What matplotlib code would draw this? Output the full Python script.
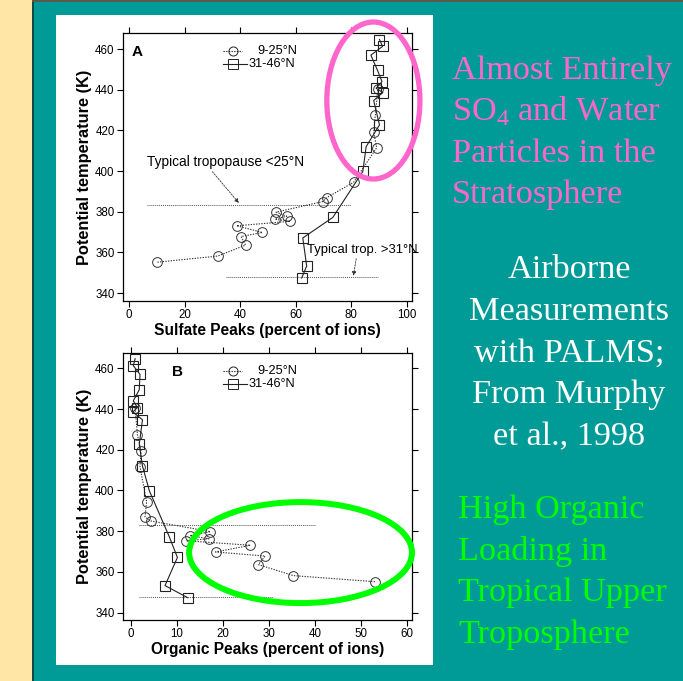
import matplotlib

matplotlib.use("Agg")
import matplotlib.pyplot as plt
from matplotlib.patches import Ellipse, Rectangle

plt.rcParams["font.family"] = ["Liberation Sans", "DejaVu Sans"]
plt.rcParams["mathtext.fontset"] = "custom"
plt.rcParams["mathtext.rm"] = "Liberation Serif"

# 9-25 N (circles) potential temperature levels and peaks
trop_theta = [355.2, 358.2, 363.6, 367.8, 369.8, 373.1, 375.3, 376.3, 377.8, 379.8,
              385.0, 387.0, 394.5, 411.5, 419.2, 427.4, 440.5]
trop_sulfate = [10.2, 31.9, 41.9, 40.3, 48.0, 38.7, 58.0, 52.5, 56.7, 52.9,
                69.7, 71.2, 80.8, 89.1, 88.0, 88.6, 89.5]
trop_organic = [53.1, 35.3, 27.7, 29.2, 18.4, 26.0, 12.0, 17.0, 12.8, 17.3,
                4.35, 3.05, 3.4, 1.96, 2.2, 1.4, 0.9]

# 31-46 N (squares)
mid_theta = [347.4, 353.3, 367.1, 377.2, 399.8, 412.0, 422.7, 434.7, 438.6, 440.7,
             444.0, 449.5, 457.0, 461.3, 464.7]
mid_sulfate = [62.1, 63.9, 62.5, 73.3, 84.1, 85.3, 90.1, 88.0, 91.3, 88.9,
               91.0, 89.4, 87.0, 91.2, 90.1]
mid_organic = [12.3, 7.4, 10.1, 8.35, 4.0, 2.5, 1.8, 2.5, 0.4, 1.4,
               0.5, 1.8, 1.96, 0.5, 0.9]

tropopause_theta = [383.2, 347.8]

pink_lines = ["Almost Entirely", "SO$_\\mathrm{4}$ and Water", "Particles in the", "Stratosphere"]
white_lines = ["Airborne", "Measurements", "with PALMS;", "From Murphy", "et al., 1998"]
green_lines = ["High Organic", "Loading in", "Tropical Upper", "Troposphere"]

W, H = 683, 681
fig = plt.figure(figsize=(W / 100, H / 100), dpi=100)
fig.patch.set_facecolor("#009B96")


def fx(px):
    return px / W


def fy(py):
    return 1 - py / H


def box(x0, y0, x1, y1, color):
    fig.add_artist(Rectangle((fx(x0), fy(y1)), fx(x1 - x0), (y1 - y0) / H,
                             transform=fig.transFigure, facecolor=color,
                             edgecolor="none", zorder=0))


box(0, 0, 32, H, "#FFE6A6")
box(32, 0, 34, H, "#0E4C48")
box(32, 0, W, 2, "#5A5A48")
box(56, 15, 433, 665, "white")


def panel(rect, xlim, ylim, xticks, xlabel, letter, letter_x):
    ax = fig.add_axes(rect)
    ax.set_facecolor("white")
    ax.set_xlim(*xlim)
    ax.set_ylim(*ylim)
    ax.set_xticks(xticks)
    ax.set_yticks(range(340, 461, 20))
    ax.tick_params(direction="out", length=4, width=0.8, labelsize=8.3,
                   top=True, right=True, pad=2)
    for s in ax.spines.values():
        s.set_linewidth(0.9)
    ax.set_ylabel("Potential temperature (K)", fontsize=11.8, fontweight="bold", labelpad=2)
    ax.set_xlabel(xlabel, fontsize=11.2, fontweight="bold", labelpad=1)
    ax.text(letter_x, 0.93, letter, transform=ax.transAxes, fontsize=11,
            fontweight="bold", va="center")
    return ax


def draw_series(ax, x_trop, x_mid, line_ext):
    ax.plot(x_trop, trop_theta, ls=(0, (1.2, 1.2)), lw=0.8, color="#333333",
            marker="o", ms=7, mfc="none", mec="#333333", mew=0.7, zorder=3)
    ax.plot(x_mid, mid_theta, ls="-", lw=0.8, color="#222222",
            marker="s", ms=7.5, mfc="none", mec="#222222", mew=0.8, zorder=3)
    for th, (a, b) in zip(tropopause_theta, line_ext):
        ax.plot([a, b], [th, th], ls=(0, (1, 1)), lw=0.7, color="#555555", zorder=2)
    # legend drawn by hand to mimic the original figure
    for i, (lab, mk, ls) in enumerate([("9-25°N", "o", (0, (1.2, 1.2))),
                                        ("31-46°N", "s", "-")]):
        yy = 0.932 - i * 0.047
        x0 = 0.346
        x1 = 0.412 if i == 0 else 0.43
        ax.plot([x0, x1], [yy, yy], transform=ax.transAxes, ls=ls, lw=0.8,
                color="#222222", clip_on=False)
        ax.plot([0.379], [yy], transform=ax.transAxes, marker=mk, ms=6.5,
                mfc="none", mec="#222222", mew=0.7)
        ax.text(0.464 if i == 0 else 0.434, yy, lab, transform=ax.transAxes,
                fontsize=9.2, va="center")


# Panel A: sulfate
axA = panel([fx(123), fy(301), fx(412 - 123), (301 - 33) / H], (-2.2, 101.8),
            (336.1, 467.9), range(0, 101, 20), "Sulfate Peaks (percent of ions)", "A", 0.03)
draw_series(axA, trop_sulfate, mid_sulfate, [(6.5, 80), (35, 89.7)])
axA.annotate("Typical tropopause <25°N", xy=(39.5, 384.3), xytext=(6.5, 404.5),
             fontsize=9.8, va="center",
             arrowprops=dict(arrowstyle="-|>", lw=0.6, ls=(0, (2, 1.5)), color="#333333",
                             mutation_scale=6, shrinkA=0, shrinkB=0,
                             relpos=(0.4, 0.0)))
axA.annotate("Typical trop. >31°N", xy=(80.7, 348.5), xytext=(64, 361.2),
             fontsize=9.4, va="center", annotation_clip=False,
             arrowprops=dict(arrowstyle="-|>", lw=0.6, ls=(0, (2, 1.5)), color="#333333",
                             mutation_scale=6, shrinkA=0, shrinkB=0,
                             relpos=(0.45, 0.0)))
axA.add_patch(Ellipse((87.9, 434.7), 33.5, 77.2, fill=False, edgecolor="#FF66CC",
                      lw=3.8, clip_on=False, zorder=5))

# Panel B: organics
axB = panel([fx(123), fy(620), fx(412 - 123), (620 - 353) / H], (-1.74, 61.15),
            (336.4, 467.5), range(0, 61, 10), "Organic Peaks (percent of ions)", "B", 0.17)
draw_series(axB, trop_organic, mid_organic, [(1.7, 40), (1.7, 31)])
axB.add_patch(Ellipse((36.9, 369.5), 48.5, 49.6, fill=False, edgecolor="#00FF00",
                      lw=4.3, clip_on=False, zorder=5))

# Slide text
serif = ["Liberation Serif", "DejaVu Serif"]
for i, line in enumerate(pink_lines):
    fig.text(fx(452), fy(79 + 41.5 * i), line, color="#FF66CC", fontsize=24.7,
             family=serif, va="baseline", ha="left")
for i, line in enumerate(white_lines):
    fig.text(fx(569), fy(278 + 41.7 * i), line, color="white", fontsize=24.7,
             family=serif, va="baseline", ha="center")
for i, line in enumerate(green_lines):
    fig.text(fx(458), fy(518 + 41.7 * i), line, color="#00FF00", fontsize=24.7,
             family=serif, va="baseline", ha="left")

fig.savefig("out.png", dpi=100, facecolor=fig.get_facecolor())
